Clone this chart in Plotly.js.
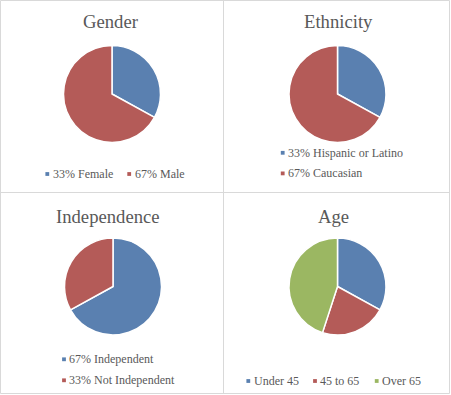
<!DOCTYPE html>
<html>
<head>
<meta charset="utf-8">
<script src="https://cdn.plot.ly/plotly-3.0.1.min.js"></script>
<style>
  html, body { margin: 0; padding: 0; background: #fff; }
  #chart { width: 451px; height: 395px; }
</style>
</head>
<body>
<div id="chart"></div>
<script>
// ---- data ----
const chartTitles = ['Gender', 'Ethnicity', 'Independence', 'Age'];

const genderLabels = ['33% Female', '67% Male'];
const genderValues = [33, 67];

const ethnicityLabels = ['33% Hispanic or Latino', '67% Caucasian'];
const ethnicityValues = [33, 67];

const independenceLabels = ['67% Independent', '33% Not Independent'];
const independenceValues = [67, 33];

const ageLabels = ['Under 45', '45 to 65', 'Over 65'];
const ageValues = [33, 22, 45];

// ---- styling ----
const palette = ['#5a80b0', '#b45b58', '#9bb762'];
const textGrey = '#595959';
const frameGrey = '#d9d9d9';
const serifFamily = 'Liberation Serif, serif';

const W = 451, H = 395;
const px = x => x / W;
const py = y => 1 - y / H;

// Placement of each small chart (pixels, top-left origin)
const placement = [
  { cx: 112, cy: 94,  r: 48.5, titleX: 111,   titleY: 21.8,
    legend: [[47.3, 174], [129.2, 174]] },
  { cx: 337.5, cy: 94, r: 48.5, titleX: 338.5, titleY: 21.8,
    legend: [[282.7, 152.8], [282.7, 173.4]] },
  { cx: 113, cy: 286.5, r: 48.5, titleX: 108, titleY: 216.4,
    legend: [[64, 359.3], [64, 380.3]] },
  { cx: 337.5, cy: 286.5, r: 48.5, titleX: 333, titleY: 216.4,
    legend: [[248.3, 381], [315, 381], [376.7, 381]] }
];

const series = [
  { labels: genderLabels, values: genderValues },
  { labels: ethnicityLabels, values: ethnicityValues },
  { labels: independenceLabels, values: independenceValues },
  { labels: ageLabels, values: ageValues }
];

const traces = [];
const annotations = [];
const shapes = [];

// panel frame: outer box plus the dividing cross
shapes.push({ type: 'rect', xref: 'paper', yref: 'paper',
  x0: px(0.5), x1: px(449.5), y0: py(393.5), y1: py(0.5),
  line: { color: frameGrey, width: 1 } });
shapes.push({ type: 'line', xref: 'paper', yref: 'paper',
  x0: px(223.5), x1: px(223.5), y0: py(393.5), y1: py(0.5),
  line: { color: frameGrey, width: 1 } });
shapes.push({ type: 'line', xref: 'paper', yref: 'paper',
  x0: px(0.5), x1: px(449.5), y0: py(192.5), y1: py(192.5),
  line: { color: frameGrey, width: 1 } });

series.forEach((s, i) => {
  const p = placement[i];
  const colors = palette.slice(0, s.values.length);

  traces.push({
    type: 'pie',
    labels: s.labels,
    values: s.values,
    sort: false,
    direction: 'clockwise',
    rotation: 0,
    textinfo: 'none',
    hoverinfo: 'label',
    showlegend: false,
    marker: { colors: colors, line: { color: '#ffffff', width: 1.5 } },
    domain: {
      x: [px(p.cx - p.r), px(p.cx + p.r)],
      y: [py(p.cy + p.r), py(p.cy - p.r)]
    }
  });

  annotations.push({
    xref: 'paper', yref: 'paper',
    x: px(p.titleX), y: py(p.titleY),
    xanchor: 'center', yanchor: 'middle',
    showarrow: false, borderpad: 0,
    text: chartTitles[i],
    font: { family: serifFamily, size: 18.67, color: textGrey }
  });

  // legend entries: small colour square followed by the label
  s.labels.forEach((lab, k) => {
    const [mx, my] = p.legend[k];
    const half = 1.9;
    shapes.push({ type: 'rect', xref: 'paper', yref: 'paper',
      x0: px(mx - half), x1: px(mx + half),
      y0: py(my + half), y1: py(my - half),
      fillcolor: colors[k], line: { width: 0 } });
    annotations.push({
      xref: 'paper', yref: 'paper',
      x: px(mx + 4.3), y: py(my),
      xanchor: 'left', yanchor: 'middle',
      showarrow: false, borderpad: 0,
      text: lab,
      font: { family: serifFamily, size: 12, color: textGrey }
    });
  });
});

const layout = {
  width: W, height: H,
  margin: { l: 0, r: 0, t: 0, b: 0, pad: 0 },
  paper_bgcolor: '#ffffff',
  plot_bgcolor: '#ffffff',
  showlegend: false,
  shapes: shapes,
  annotations: annotations
};

Plotly.newPlot('chart', traces, layout, { displayModeBar: false, staticPlot: true });
</script>
</body>
</html>
